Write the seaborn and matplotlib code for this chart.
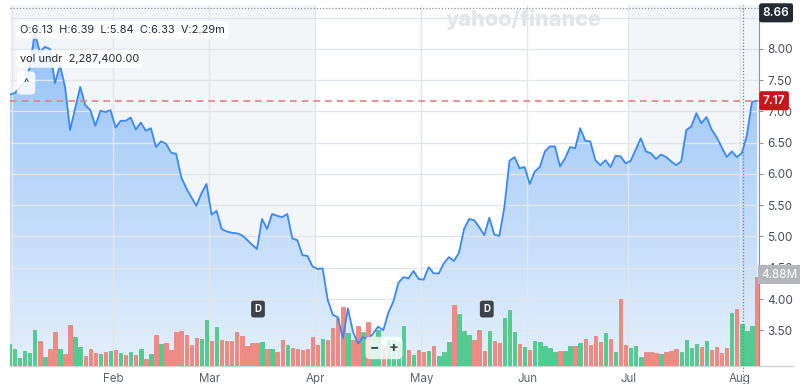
import numpy as np
import pandas as pd
import seaborn as sns
import matplotlib.pyplot as plt
from matplotlib.colors import LinearSegmentedColormap

sns.set_style("white")
plt.rcParams['font.family'] = ['Inter', 'DejaVu Sans']

# trading days on the chart: Dec 31 2024 -> Aug 6 2025 (exchange holidays removed)
closed_days = ['2025-01-01', '2025-01-09', '2025-01-20', '2025-02-17',
               '2025-04-18', '2025-05-26', '2025-06-19', '2025-07-04']
dates = pd.bdate_range('2024-12-31', '2025-08-06')
dates = dates[~dates.isin(pd.to_datetime(closed_days))]

close = [7.27, 7.29, 7.38, 7.47, 7.70, 8.25, 7.95, 8.03, 8.00, 7.45,
         7.74, 7.39, 6.70, 7.05, 7.39, 7.10, 7.02, 6.77, 7.01, 6.99,
         7.02, 6.74, 6.85, 6.85, 6.90, 6.71, 6.82, 6.69, 6.73, 6.43,
         6.52, 6.48, 6.34, 6.32, 5.95, 5.77, 5.63, 5.49, 5.69, 5.84,
         5.35, 5.41, 5.12, 5.08, 5.06, 5.05, 5.02, 4.95, 4.87, 4.80,
         5.28, 5.12, 5.36, 5.33, 5.31, 5.36, 4.97, 4.94, 4.70, 4.69,
         4.52, 4.48, 4.49, 3.99, 3.75, 3.71, 3.37, 3.85, 3.48, 3.29,
         3.39, 3.36, 3.45, 3.56, 3.50, 3.78, 3.96, 4.26, 4.35, 4.33,
         4.45, 4.32, 4.31, 4.51, 4.41, 4.41, 4.57, 4.67, 4.61, 4.74,
         5.12, 5.28, 5.26, 5.15, 5.02, 5.30, 5.03, 5.01, 5.48, 6.21,
         6.27, 6.09, 6.11, 5.84, 6.04, 6.11, 6.36, 6.44, 6.44, 6.12,
         6.25, 6.43, 6.41, 6.73, 6.53, 6.52, 6.22, 6.14, 6.22, 6.11,
         6.29, 6.28, 6.17, 6.21, 6.39, 6.57, 6.36, 6.33, 6.24, 6.31,
         6.27, 6.20, 6.14, 6.20, 6.70, 6.76, 6.97, 6.81, 6.91, 6.71,
         6.59, 6.43, 6.27, 6.36, 6.27, 6.33, 6.62, 7.15, 7.17]

# volume in millions
volume_m = [1.21, 0.92, 0.42, 0.82, 0.70, 1.98, 1.37, 0.51, 0.92, 1.85,
            0.92, 0.66, 2.25, 1.61, 1.04, 0.55, 0.92, 0.70, 0.66, 0.75,
            0.82, 0.86, 0.70, 0.60, 0.75, 0.60, 0.92, 0.37, 0.66, 1.70,
            1.19, 1.28, 0.86, 1.85, 1.92, 1.70, 1.13, 1.52, 1.46, 2.50,
            1.39, 2.14, 1.43, 1.39, 1.39, 1.88, 1.65, 1.10, 1.24, 1.28,
            1.32, 0.95, 0.92, 0.75, 1.41, 1.13, 1.00, 0.93, 0.90, 0.92,
            1.59, 1.15, 1.46, 1.44, 2.10, 2.65, 3.24, 1.80, 1.45, 2.18,
            1.85, 2.41, 1.60, 1.95, 1.10, 1.44, 1.44, 1.30, 2.17, 0.88,
            0.61, 0.88, 0.76, 0.83, 1.10, 0.55, 0.76, 1.29, 3.37, 2.86,
            1.90, 1.71, 1.40, 1.99, 0.83, 1.90, 1.38, 1.25, 2.64, 3.09,
            1.84, 1.20, 1.03, 0.88, 1.35, 1.29, 1.12, 0.98, 0.76, 0.83,
            0.83, 1.10, 1.07, 1.25, 1.49, 1.16, 1.62, 1.33, 1.81, 1.49,
            0.76, 3.65, 1.14, 0.98, 1.12, 0.48, 0.76, 0.79, 0.70, 0.66,
            0.76, 0.83, 0.92, 0.76, 1.40, 0.96, 1.21, 1.03, 1.36, 0.86,
            1.03, 0.70, 0.96, 2.91, 3.13, 2.29, 1.90, 2.21, 4.88]

# bar colour: G = up day, R = down day
candle = list("GGGGGGRGRR" "GRRGGRRRGR" "GRGRGRGRGR" "GRRRRRRRGG"
              "RGRRRRRRRR" "GRGRRGRRRR" "RRGRRRRGRR" "GRGGRGGGGR"
              "GRRGRGGGRG" "GGRRRGRRGG" "GRGRGGGGGR" "GGRGRRRRGR"
              "GRRGGGRRRG" "RRRGGGGRGR" "RRRGRGGGR")

last_price = 7.17
hover_idx = 145
hover_price = 8.66
div_marks = [(49.2, 3.84), (94.5, 3.84)]

idx = np.arange(len(dates))
df = pd.DataFrame({'i': idx, 'close': close, 'vol': volume_m, 'dir': candle})

# month ticks sit just before the first session of each month
month_first = df.groupby(dates.to_period('M')).i.min().values[1:]
tick_pos = month_first - 0.45
tick_lab = [''] + [d.strftime('%b') for d in dates[month_first[1:]]]

xmin, xmax = 0.1, 148.4
ylo, yhi = 2.93, 8.70

fig = plt.figure(figsize=(8, 3.84), dpi=100)
ax = fig.add_axes([10 / 800, 18 / 384, 749 / 800, 361 / 384])
ax2 = ax.twinx()
ax3 = ax.twinx()

# quarter shading
ax.axvspan(-5, tick_pos[3], color='#f3f6f9', zorder=0, lw=0)
ax.axvspan(tick_pos[6], 200, color='#f3f6f9', zorder=0, lw=0)

# gradient area under the price
fill = ax.fill_between(df.i, df.close, ylo - 1, color='none', lw=0)
grad = np.linspace(0, 1, 256).reshape(-1, 1)
cmap = LinearSegmentedColormap.from_list('fade', ['#8fbef6', '#e4f0fc'])
im = ax.imshow(grad, cmap=cmap, aspect='auto', extent=[xmin - 1, xmax + 1, ylo, yhi],
               origin='upper', zorder=1)
im.set_clip_path(fill.get_paths()[0], transform=ax.transData)

ax.set_axisbelow(False)
ax.grid(True, color='#e2e6eb', lw=1)

# volume bars, up and down days
bar_cols = {'G': ('#4fce8f', '#3fbf80'), 'R': ('#f38a82', '#e8786f')}
for key, (fc, ec) in bar_cols.items():
    sub = df[df.dir == key]
    sns.barplot(data=sub, x='i', y='vol', color=fc, native_scale=True, width=0.68,
                errorbar=None, saturation=1, edgecolor=ec, linewidth=0.5, ax=ax2)
ax2.set_ylim(0, 19.8)

# price line + reference lines
sns.lineplot(data=df, x='i', y='close', color='#3a88f5', lw=1.3, ax=ax3)
ax3.axhline(last_price, color='#e58080', ls=(0, (4, 3)), lw=1.2)
ax3.axhline(hover_price, color='#8a9096', ls=(0, (1, 1.5)), lw=0.9)
ax3.axvline(hover_idx + 0.25, ymin=-0.05, ymax=1, color='#7c8288', ls=(0, (1, 1.5)),
            lw=0.9, clip_on=False)
for dx, dy in div_marks:
    ax3.text(dx, dy, 'D', color='white', fontsize=7, weight='bold', ha='center', va='center',
             bbox=dict(boxstyle='round,pad=0.35,rounding_size=0.25', fc='#3d4349', ec='none'))

for a in (ax, ax2, ax3):
    a.set_xlim(xmin, xmax)
    a.set_xlabel('')
    a.set_ylabel('')
ax.set_ylim(ylo, yhi)
ax3.set_ylim(ylo, yhi)

for a in (ax2, ax3):
    a.set_yticks([])
    for s in a.spines.values():
        s.set_visible(False)

ax.yaxis.tick_right()
ax.set_yticks(np.arange(3.5, 8.51, 0.5))
ax.set_yticklabels([f'{v:.2f}' for v in np.arange(3.5, 8.51, 0.5)])
ax.set_xticks(tick_pos)
ax.set_xticklabels(tick_lab)
ax.tick_params(axis='y', length=3, width=0.8, color='#8b9196', pad=3, labelsize=8.5,
               labelcolor='#464e56')
ax.tick_params(axis='x', length=4, width=0.8, color='#9aa0a6', pad=1, labelsize=8.3,
               labelcolor='#5b636a')
ax.spines['top'].set_visible(False)
ax.spines['left'].set_visible(False)
ax.spines['right'].set_color('#8b9196')
ax.spines['bottom'].set_color('#cfd3d8')
ax.plot([1, 1.045], [0, 0], transform=ax.transAxes, clip_on=False, color='#cfd3d8', lw=1)

# price / volume flags on the right axis
ax.text(1.005, 8.575, '8.66', transform=ax.get_yaxis_transform(), color='white',
        fontsize=8.5, weight='semibold', va='center', ha='left', clip_on=False, zorder=10,
        bbox=dict(boxstyle='round,pad=0.3,rounding_size=0.2', fc='#232a31', ec='none'))
ax.text(1.005, last_price, '7.17', transform=ax.get_yaxis_transform(), color='white',
        fontsize=8.5, weight='semibold', va='center', ha='left', clip_on=False, zorder=10,
        bbox=dict(boxstyle='round,pad=0.3,rounding_size=0.2', fc='#c9141c', ec='none'))
ax2.text(1.003, 5.0, '4.88M', transform=ax2.get_yaxis_transform(), color='white',
         fontsize=8.5, va='center', ha='left', clip_on=False, zorder=10,
         bbox=dict(boxstyle='square,pad=0.3', fc='#b3b6ba', ec='none'))

# overlays
fig.text(524 / 800, 1 - 19 / 384, 'yahoo/finance', fontsize=15.5, weight='heavy',
         color='#e3e5e8', ha='center', va='center')
box = dict(boxstyle='round,pad=0.35,rounding_size=0.4', fc='white', ec='none', alpha=0.85)
fig.text(20 / 800, 1 - 30 / 384, 'O:6.13  H:6.39  L:5.84  C:6.33  V:2.29m', fontsize=7.9,
         color='#232a31', va='center', ha='left', bbox=box)
fig.text(20 / 800, 1 - 59 / 384, 'vol undr  2,287,400.00', fontsize=7.9,
         color='#232a31', va='center', ha='left', bbox=box)
fig.text(26 / 800, 1 - 83 / 384, '^', fontsize=8, color='#232a31', va='center', ha='center',
         bbox=dict(boxstyle='round,pad=0.6,rounding_size=0.4', fc='white', ec='none', alpha=0.85))
fig.text(384 / 800, 1 - 348 / 384, '−   +', fontsize=10, weight='bold', color='#3d4349',
         va='center', ha='center',
         bbox=dict(boxstyle='round,pad=0.3,rounding_size=0.3', fc='white', ec='none', alpha=0.8))

fig.savefig('out.png', dpi=100)
